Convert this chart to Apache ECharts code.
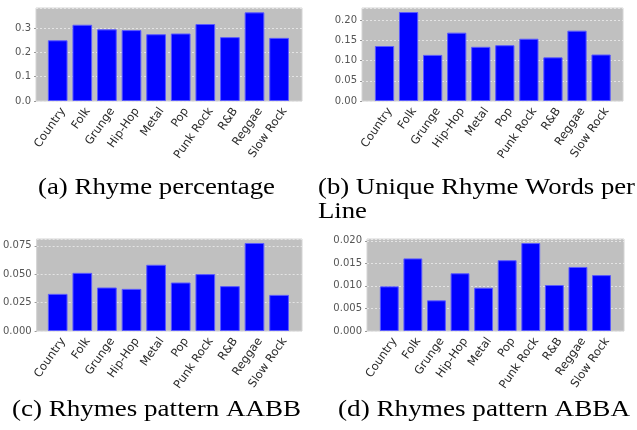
<!DOCTYPE html>
<html><head><meta charset="utf-8">
<script src="https://cdn.jsdelivr.net/npm/echarts@6/dist/echarts.min.js"></script>
<style>html,body{margin:0;padding:0;background:#fff}#c{width:637px;height:430px}</style>
</head><body><div id="c"></div>
<script>
const categories = ['Country','Folk','Grunge','Hip-Hop','Metal','Pop','Punk Rock','R&B','Reggae','Slow Rock'];
const rhymePercentage = [0.250,0.314,0.295,0.292,0.275,0.278,0.317,0.263,0.365,0.260];
const uniqueRhymeWordsPerLine = [0.136,0.220,0.114,0.169,0.134,0.138,0.154,0.108,0.174,0.115];
const patternAABB = [0.0327,0.0512,0.0383,0.0371,0.0583,0.0427,0.0501,0.0395,0.0775,0.0318];
const patternABBA = [0.0099,0.0161,0.0068,0.0128,0.0096,0.0157,0.0195,0.0102,0.0142,0.0124];
const captions = ['(a) Rhyme percentage','(b) Unique Rhyme Words per','Line','(c) Rhymes pattern AABB','(d) Rhymes pattern ABBA'];

const panels = [
  {data: rhymePercentage, bg:{left:36,top:8,width:266,height:93}, bars:{left:45.4,width:246}, max:0.383, interval:0.1, dec:1},
  {data: uniqueRhymeWordsPerLine, bg:{left:362,top:8,width:261,height:93}, bars:{left:372.5,width:240.6}, max:0.23, interval:0.05, dec:2},
  {data: patternAABB, bg:{left:36,top:239,width:266,height:92}, bars:{left:45.4,width:246}, max:0.081, interval:0.025, dec:3},
  {data: patternABBA, bg:{left:367,top:239,width:257,height:92}, bars:{left:377.5,width:235.8}, max:0.0204, interval:0.005, dec:3}
];

const grid=[], xAxis=[], yAxis=[], series=[];
panels.forEach((p)=>{
  const gi = grid.length;
  grid.push({left:p.bg.left, top:p.bg.top, width:p.bg.width, height:p.bg.height, show:true,
    backgroundColor:'#c0c0c0', borderColor:'#d4d4d4', borderWidth:1, containLabel:false});
  grid.push({left:p.bars.left, top:p.bg.top, width:p.bars.width, height:p.bg.height, containLabel:false});
  grid.push({left:p.bars.left+5.5, top:p.bg.top, width:p.bars.width, height:p.bg.height, containLabel:false});
  const fmt = v => {
    const k = v / p.interval;
    if (Math.abs(k - Math.round(k)) > 1e-6) return '';
    return v.toFixed(p.dec);
  };
  xAxis.push({gridIndex:gi, type:'value', show:false, min:0, max:1});
  yAxis.push({gridIndex:gi, type:'value', min:0, max:p.max, interval:p.interval,
    axisLine:{show:false}, axisTick:{show:true, length:2, lineStyle:{color:'#9a9a9a'}},
    axisLabel:{formatter:fmt, color:'#555', fontFamily:'DejaVu Sans', fontSize:10, margin:5, showMaxLabel:false},
    splitLine:{show:true, lineStyle:{color:'#e4e4e4', type:[2,2], width:1}}});
  xAxis.push({gridIndex:gi+1, type:'category', data:categories, boundaryGap:true,
    axisLine:{show:false}, axisTick:{show:false}, axisLabel:{show:false}});
  yAxis.push({gridIndex:gi+1, type:'value', min:0, max:p.max, show:false, splitLine:{show:false}});
  xAxis.push({gridIndex:gi+2, type:'category', data:categories, boundaryGap:true,
    axisLine:{show:false}, axisTick:{show:false},
    axisLabel:{show:true, interval:0, rotate:55, margin:8, color:'#2a2a2a', fontFamily:'DejaVu Sans', fontSize:11.5}});
  yAxis.push({gridIndex:gi+2, type:'value', min:0, max:p.max, show:false, splitLine:{show:false}});
  series.push({type:'bar', xAxisIndex:gi+1, yAxisIndex:gi+1, data:p.data, barWidth:'80%',
    itemStyle:{color:'#0000ff', borderColor:'#5a5aff', borderWidth:1}, silent:true, animation:false});
});

const ctx = document.createElement('canvas').getContext('2d');
const capFont = 'Liberation Serif';
const capSize = 23;
function capEl(text, x, y, targetW){
  ctx.font = capSize + 'px "' + capFont + '"';
  const w = ctx.measureText(text).width;
  const sx = targetW ? targetW / w : 1;
  return {type:'text', x:x, y:y, scaleX:sx, originX:0, originY:0,
    style:{text:text, font: capSize+'px "'+capFont+'"', fill:'#000', align:'left', verticalAlign:'middle'}};
}
const graphic = [
  capEl(captions[0], 38, 188, 237),
  capEl(captions[1], 318, 188, 317),
  capEl(captions[3], 12, 410, 289),
  capEl(captions[4], 338, 410, 292)
];
graphic.push(Object.assign(capEl(captions[2], 318, 212), {scaleX: graphic[1].scaleX}));

const chart = echarts.init(document.getElementById('c'), null, {renderer:'canvas'});
chart.setOption({animation:false, grid, xAxis, yAxis, series, graphic});
</script></body></html>
